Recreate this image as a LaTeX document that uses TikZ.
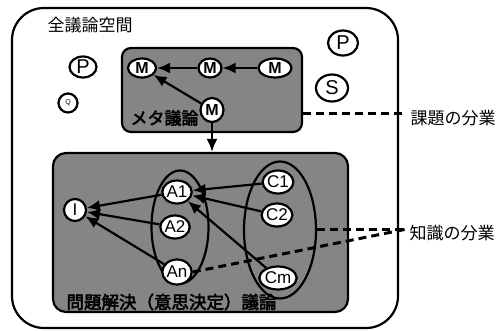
\documentclass[tikz,border=0pt]{standalone}
\usepackage{fontspec}
\setmainfont{Liberation Sans}
\newfontfamily\jpfont{Noto Sans CJK JP}
\newfontfamily\jpbold[FakeBold=3]{Noto Sans CJK JP}
\usetikzlibrary{positioning,shapes,arrows.meta}
\tikzset{
  basic/.style  = {draw, line width=2.2pt, fill=white, ellipse, inner sep=0pt, font=\sffamily},
  agent/.style  = {basic, font=\fontsize{20}{20}\selectfont},
  meta/.style   = {basic, minimum height=19pt, font=\bfseries\fontsize{16}{16}\selectfont},
  arg/.style    = {basic, minimum width=23pt, minimum height=23pt, font=\fontsize{17}{17}\selectfont},
  area/.style   = {draw, line width=2.2pt, fill=black!48, rectangle},
  group/.style  = {draw, line width=2.2pt, ellipse, inner sep=0pt},
  link/.style   = {line width=2.2pt, -{Latex[length=13pt,width=11pt]}},
  division/.style = {line width=3pt, dash pattern=on 8pt off 5pt}
}
\begin{document}
\begin{tikzpicture}[x=1pt, y=-1pt]
  \useasboundingbox (0,0) rectangle (498,330);
  % outer space
  \node[draw, line width=2.2pt, rounded corners=32pt, minimum width=386pt, minimum height=320pt] (space) at (205,168) {};
  \node[anchor=west, font=\jpfont\fontsize{17}{17}\selectfont] (spacelabel) at (44,25) {全議論空間};
  % free agents
  \node[agent, minimum width=27pt, minimum height=21pt] (p1) at (83,67) {P};
  \node[agent, minimum width=19pt, minimum height=19pt, font=\scriptsize] (q) at (68,103) {\raisebox{-5pt}{Q}};
  \node[agent, minimum width=30pt, minimum height=25pt] (p2) at (343,43) {P};
  \node[agent, minimum width=32pt, minimum height=27pt] (s) at (332,88) {S};
  % meta discussion
  \node[area, rounded corners=9pt, minimum width=180pt, minimum height=84pt] (metabox) at (212,90) {};
  \node[anchor=west, font=\jpbold\fontsize{17}{17}\selectfont] (metalabel) at (127,118) {メタ議論};
  \node[meta, minimum width=28pt] (m1) at (142,68) {M};
  \node[meta, minimum width=23pt] (m2) at (210,68) {M};
  \node[meta, minimum width=33pt] (m3) at (275,68) {M};
  \node[meta, minimum width=23pt, minimum height=24pt] (m4) at (212,110) {M};
  \draw[link] (m2) -- (m1);
  \draw[link] (m3) -- (m2);
  \draw[link] (m4) -- (m1);
  % problem solving discussion
  \node[area, rounded corners=13pt, minimum width=295pt, minimum height=159pt] (solvebox) at (200.5,232.5) {};
  \draw[link] (m4) -- (m4 |- solvebox.north);
  \node[anchor=west, font=\jpbold\fontsize{17.5}{17.5}\selectfont] (solvelabel) at (63,302) {問題解決（意思決定）議論};
  \node[group, minimum width=57pt, minimum height=113pt] (agroup) at (180,227) {};
  \node[group, minimum width=72pt, minimum height=137pt] (cgroup) at (280,230) {};
  \node[arg, minimum width=22pt, minimum height=22pt] (i) at (75,210) {I};
  \node[arg] (a1) at (177,192) {A1};
  \node[arg] (a2) at (175,227) {A2};
  \node[arg, minimum height=25pt] (an) at (177,272) {An};
  \node[arg] (c1) at (278,182) {C1};
  \node[arg] (c2) at (277,215) {C2};
  \node[arg, minimum width=27pt] (cm) at (278,278) {Cm};
  \draw[link] (a1) -- (i);
  \draw[link] (a2) -- (i);
  \draw[link] (an) -- (i);
  \draw[link] (c1) -- (a1);
  \draw[link] (c2) -- (a1);
  \draw[link] (cm) -- (a1);
  % division of labour
  \coordinate (taskend) at (407,113);
  \coordinate (knowend) at (407,229);
  \node[anchor=west, font=\jpfont\fontsize{17}{17}\selectfont] (task) at (407,118) {課題の分業};
  \node[anchor=west, font=\jpfont\fontsize{17}{17}\selectfont] (know) at (406,233) {知識の分業};
  \draw[division] (metabox.east |- taskend) -- (taskend);
  \draw[division] (cgroup.east |- knowend) -- (knowend);
  \draw[division] (an.east) -- (knowend);
\end{tikzpicture}
\end{document}
